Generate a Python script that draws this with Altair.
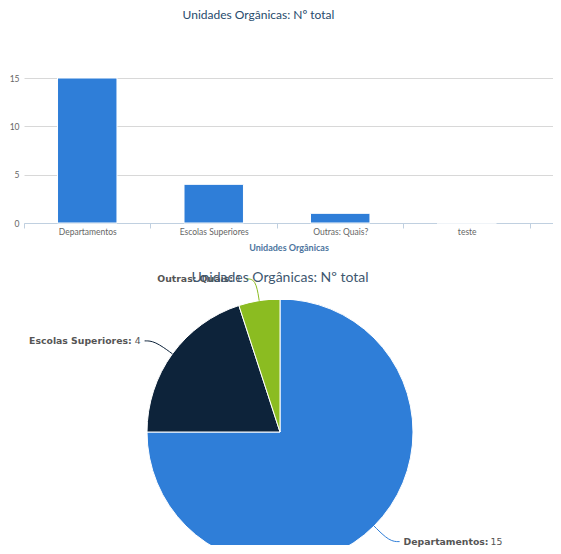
import altair as alt
import pandas as pd

categories = ["Departamentos", "Escolas Superiores", "Outras: Quais?", "teste"]
values = [15, 4, 1, 0]
pie_names = ["Departamentos", "Escolas Superiores", "Outras: Quais", "teste"]
pie_colors = ["#2f7ed8", "#0d233a", "#8bbc21", "#910000"]
y_ticks = [0, 5, 10, 15]
title_text = "Unidades Orgânicas: Nº total"
x_title = "Unidades Orgânicas"

df_bar = pd.DataFrame({"cat": categories, "val": values})
df_pie = pd.DataFrame({"cat": pie_names, "val": values, "idx": list(range(len(values)))})

R = 133
R2 = 155
W2 = 512
H2 = 245
CY = 132

bar = alt.Chart(df_bar).mark_bar(color="#2f7ed8", stroke="white", strokeWidth=1,
                                 width=alt.RelativeBandSize(0.47)).encode(
    x=alt.X("cat:N", sort=categories,
            scale=alt.Scale(paddingInner=0, paddingOuter=0.091, align=0),
            axis=alt.Axis(title=x_title, labelAngle=0, domainColor="#C0D0E0", tickColor="#C0D0E0",
                          tickSize=5, tickBand="extent", labelColor="#666666", labelFont="Lato",
                          labelFontSize=8.5, labelPadding=-1, titleColor="#4d759e", titleFont="Lato",
                          titleFontSize=9, titleFontWeight="bold", titlePadding=8)),
    y=alt.Y("val:Q", scale=alt.Scale(domain=[0, 15], nice=False),
            axis=alt.Axis(title=None, values=y_ticks, grid=True, gridColor="#d8d8d8", domain=False,
                          ticks=False, labelColor="#666666", labelFont="Lato", labelFontSize=8.5,
                          labelPadding=5)),
).properties(
    width=529, height=145,
    title=alt.TitleParams(title_text, font="Lato", fontSize=12, fontWeight="normal", color="#274b6d",
                          anchor="middle", frame="group", offset=52, dx=-30),
)

xs = alt.Scale(domain=[-W2 / 2, W2 / 2], nice=False, zero=False)
ys = alt.Scale(domain=[CY - H2, CY], nice=False, zero=False)
cscale = alt.Scale(domain=pie_names, range=pie_colors)

pbase = alt.Chart(df_pie).transform_filter("datum.val > 0")

arcs = pbase.mark_arc(radius=R, stroke="white", strokeWidth=1, clip=True).encode(
    x=alt.XDatum(0, type="quantitative", scale=xs, axis=None),
    y=alt.YDatum(0, type="quantitative", scale=ys, axis=None),
    theta=alt.Theta("val:Q", stack=True),
    order=alt.Order("idx:Q"),
    color=alt.Color("cat:N", scale=cscale, legend=None),
)

geo = pbase.transform_window(
    cum="sum(val)", sort=[alt.SortField("idx")], frame=[None, 0]
).transform_joinaggregate(total="sum(val)").transform_calculate(
    mid="(datum.cum - datum.val/2) / datum.total * 2 * PI",
    s="sin(datum.mid)",
    c="cos(datum.mid)",
    side="datum.s >= 0 ? 1 : -1",
    x0=f"{R} * datum.s",
    y0=f"{R} * datum.c",
    x1=f"{R2} * datum.s",
    y1=f"{R2} * datum.c",
    x2="datum.x1 + datum.side * 10",
    xl="datum.x2 + datum.side * 4",
    nm="datum.cat + ':'",
)

conn = geo.transform_calculate(k="[0, 1, 2]").transform_flatten(["k"]).transform_calculate(
    px="datum.k == 0 ? datum.x0 : (datum.k == 1 ? datum.x1 : datum.x2)",
    py="datum.k == 0 ? datum.y0 : datum.y1",
).mark_line(interpolate="basis", strokeWidth=1).encode(
    x=alt.X("px:Q", scale=xs, axis=None),
    y=alt.Y("py:Q", scale=ys, axis=None),
    detail="cat:N",
    order="k:Q",
    color=alt.Color("cat:N", scale=cscale, legend=None),
)

lab_style = dict(font="DejaVu Sans", fontSize=9.3, baseline="middle", color="#555555")

right_name = geo.transform_filter("datum.s >= 0").mark_text(align="left", fontWeight="bold", **lab_style).encode(
    x=alt.X("xl:Q", scale=xs, axis=None), y=alt.Y("y1:Q", scale=ys, axis=None), text="nm:N")
right_val = geo.transform_filter("datum.s >= 0").transform_calculate(
    xv="datum.xl + length(datum.nm) * 6.0 + 3"
).mark_text(align="left", fontWeight="normal", **lab_style).encode(
    x=alt.X("xv:Q", scale=xs, axis=None), y=alt.Y("y1:Q", scale=ys, axis=None), text="val:Q")
left_val = geo.transform_filter("datum.s < 0").mark_text(align="right", fontWeight="normal", **lab_style).encode(
    x=alt.X("xl:Q", scale=xs, axis=None), y=alt.Y("y1:Q", scale=ys, axis=None), text="val:Q")
left_name = geo.transform_filter("datum.s < 0").transform_calculate(
    xn="datum.xl - length(toString(datum.val)) * 5.9 - 3"
).mark_text(align="right", fontWeight="bold", **lab_style).encode(
    x=alt.X("xn:Q", scale=xs, axis=None), y=alt.Y("y1:Q", scale=ys, axis=None), text="nm:N")

pie = alt.layer(arcs, conn, right_name, right_val, left_val, left_name).properties(
    width=W2, height=H2,
    title=alt.TitleParams(title_text, font="Lato", fontSize=14, fontWeight="normal", color="#3e576f",
                          anchor="middle", frame="group", offset=-10),
)

chart = alt.vconcat(bar, pie, spacing=77, bounds="flush").properties(
    padding={"left": 1, "top": 1, "right": 0, "bottom": 0}
).configure_view(stroke=None)

chart.save("out.html", embed_options={"renderer": "svg", "actions": False})
